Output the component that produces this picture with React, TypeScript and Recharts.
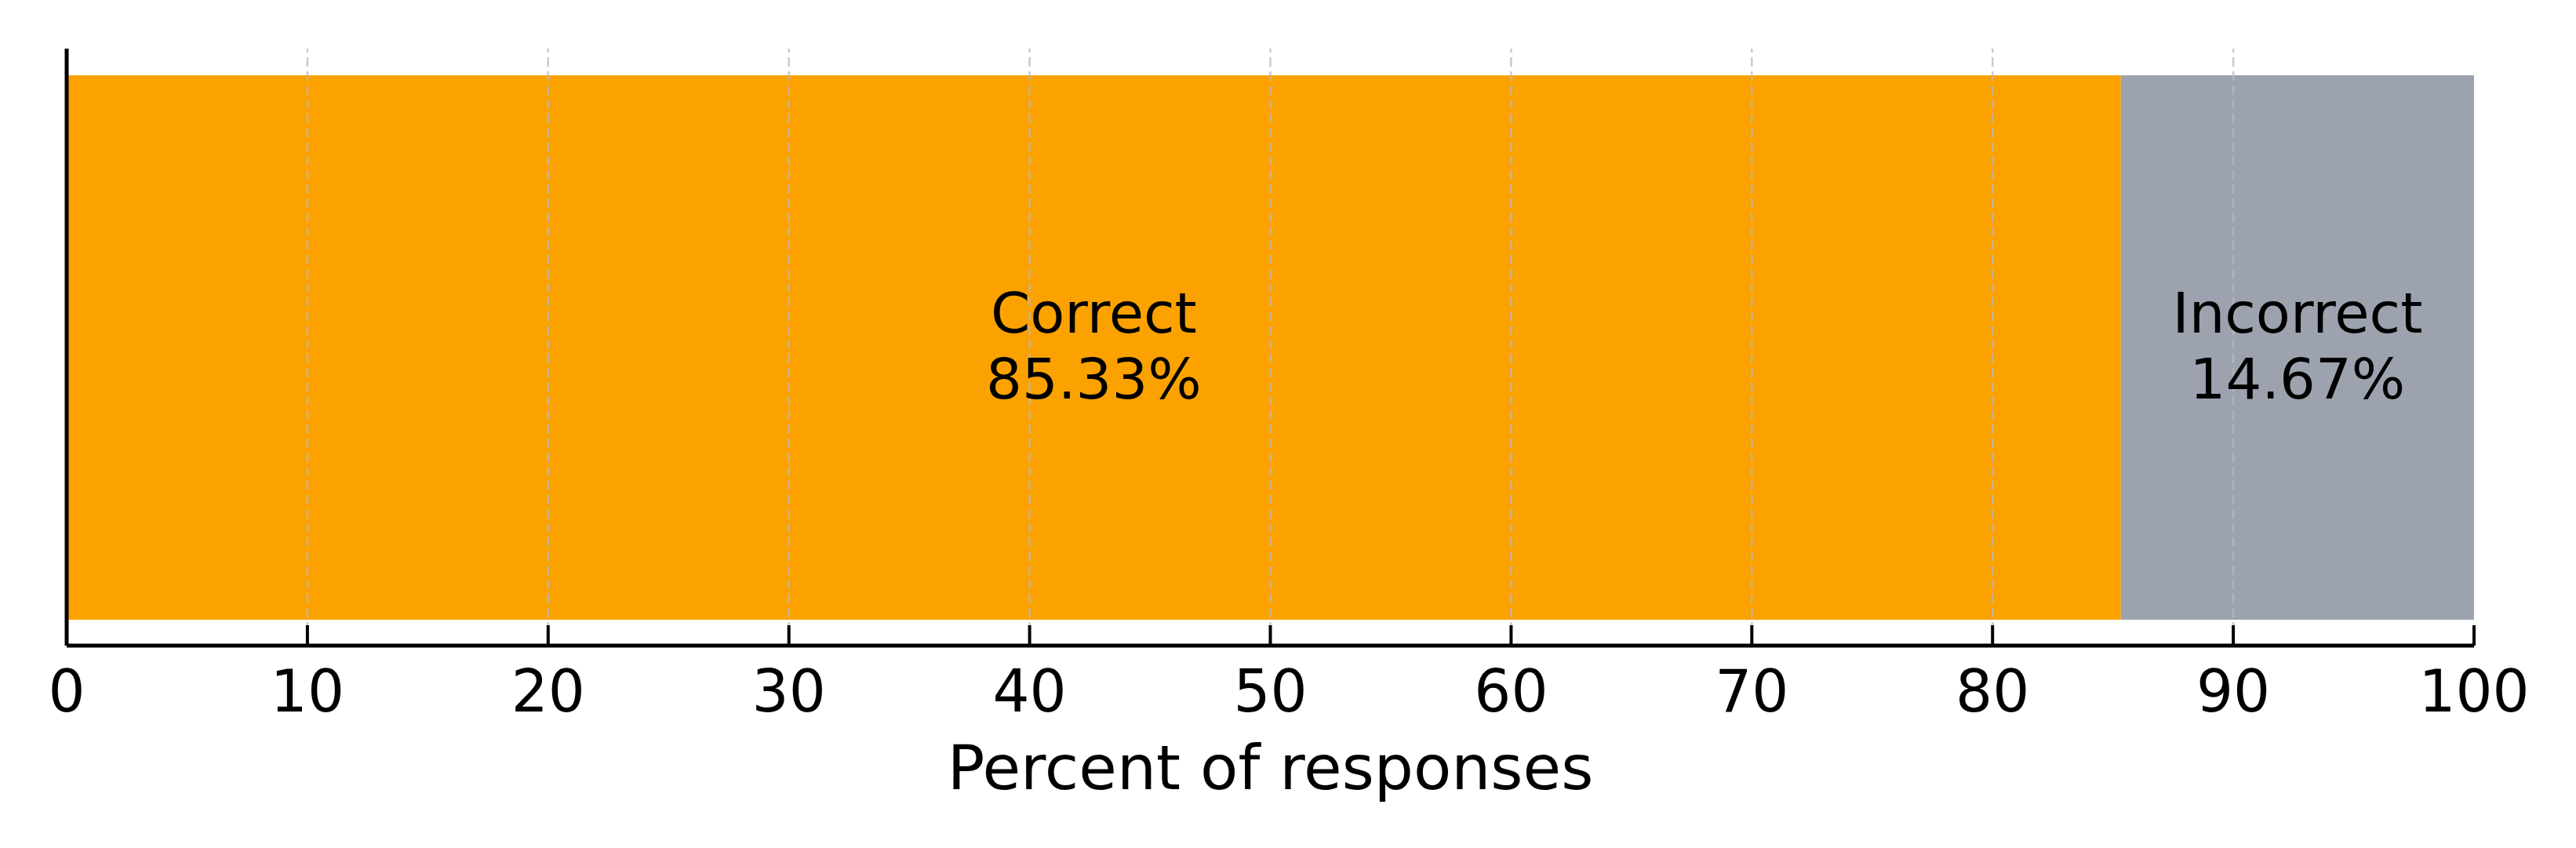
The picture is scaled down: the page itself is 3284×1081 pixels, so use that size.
import React from 'react';
import { BarChart, Bar, XAxis, YAxis, ReferenceLine, LabelList, Label } from 'recharts';

const categories = ['Responses'];
const correctValues = [85.33];
const incorrectValues = [14.67];
const seriesNames = ['Correct', 'Incorrect'];
const xTicks = [0, 10, 20, 30, 40, 50, 60, 70, 80, 90, 100];
const gridValues = [10, 20, 30, 40, 50, 60, 70, 80, 90];

const data = categories.map((c, i) => ({
  name: c,
  correct: correctValues[i],
  incorrect: incorrectValues[i],
}));

const FONT = '"DejaVu Sans", sans-serif';
const CHART_W = 3276;
const CHART_H = 1065;
const MARGIN = { top: 54, right: 130, left: 76, bottom: 50 };
const X_AXIS_H = 200;
const AXIS_Y = CHART_H - MARGIN.bottom - X_AXIS_H;

const XTick = (props: any) => {
  const { x, payload } = props;
  return (
    <g>
      <line x1={x} x2={x} y1={AXIS_Y} y2={AXIS_Y - 26} stroke="#000" strokeWidth={4} />
      <text
        x={x}
        y={AXIS_Y + 58}
        textAnchor="middle"
        dominantBaseline="central"
        fontSize={74}
        fontFamily={FONT}
        fill="#000"
      >
        {payload.value}
      </text>
    </g>
  );
};

const makeBarLabel = (name: string) => (props: any) => {
  const { x, y, width, height, value } = props;
  const cx = Number(x) + Number(width) / 2;
  const cy = Number(y) + Number(height) / 2;
  return (
    <text
      textAnchor="middle"
      dominantBaseline="central"
      fontSize={72}
      fontFamily={FONT}
      fill="#000"
    >
      <tspan x={cx} y={cy - 44}>{name}</tspan>
      <tspan x={cx} y={cy + 40}>{`${Number(value).toFixed(2)}%`}</tspan>
    </text>
  );
};

const AxisTitle = (props: any) => {
  const { viewBox } = props;
  const cx = viewBox.x + viewBox.width / 2;
  return (
    <text
      x={cx}
      y={AXIS_Y + 156}
      textAnchor="middle"
      dominantBaseline="central"
      fontSize={79}
      fontFamily={FONT}
      fill="#000"
    >
      Percent of responses
    </text>
  );
};

export default function App() {
  return (
    <div style={{ width: CHART_W, height: CHART_H, background: '#fff' }}>
      <BarChart
        width={CHART_W}
        height={CHART_H}
        data={data}
        layout="vertical"
        margin={MARGIN}
        barCategoryGap={0}
      >
        <XAxis
          type="number"
          domain={[0, 100]}
          ticks={xTicks}
          interval={0}
          tickSize={0}
          tickMargin={0}
          tickLine={false}
          tick={<XTick />}
          axisLine={{ stroke: '#000', strokeWidth: 5 }}
          height={X_AXIS_H}
        >
          <Label content={<AxisTitle />} />
        </XAxis>
        <YAxis
          type="category"
          dataKey="name"
          width={1}
          tick={false}
          tickLine={false}
          axisLine={{ stroke: '#000', strokeWidth: 5 }}
        />
        <Bar dataKey="correct" stackId="a" fill="#FBA200" barSize={694} isAnimationActive={false}>
          <LabelList dataKey="correct" content={makeBarLabel(seriesNames[0])} />
        </Bar>
        <Bar dataKey="incorrect" stackId="a" fill="#9CA3AF" barSize={694} isAnimationActive={false}>
          <LabelList dataKey="incorrect" content={makeBarLabel(seriesNames[1])} />
        </Bar>
        {gridValues.map((v) => (
          <ReferenceLine
            key={v}
            x={v}
            stroke="#b8b8b8"
            strokeOpacity={0.75}
            strokeWidth={2.5}
            strokeDasharray="12 6"
          />
        ))}
      </BarChart>
    </div>
  );
}
